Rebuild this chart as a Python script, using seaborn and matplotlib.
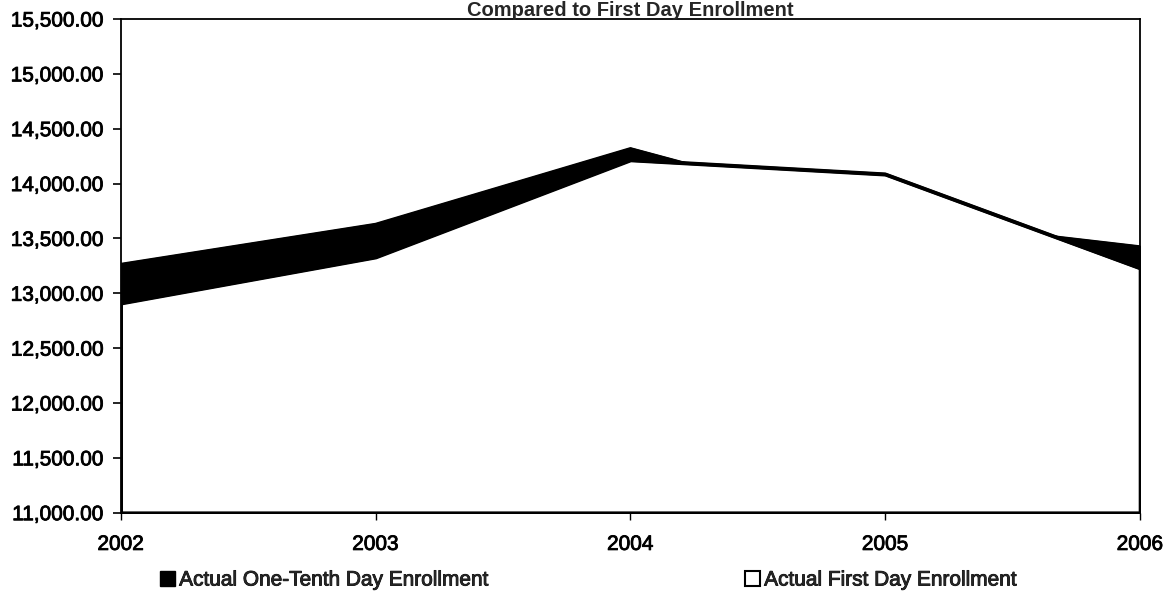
import matplotlib
matplotlib.use("Agg")
import matplotlib.pyplot as plt
import matplotlib.patheffects as pe
import pandas as pd
import seaborn as sns
from matplotlib.patches import Patch
from matplotlib.ticker import FuncFormatter

# Enrollment by academic year
years = [2002, 2003, 2004, 2005, 2006]
one_tenth_day = [13270, 13635, 14325, 13700, 13430]
first_day = [12910, 13330, 14215, 14085, 13230]

series_names = ["Actual One-Tenth Day Enrollment", "Actual First Day Enrollment"]
title_text = "Compared to First Day Enrollment"
y_ticks = [11000, 11500, 12000, 12500, 13000, 13500, 14000, 14500, 15000, 15500]
x_labels = ["2002", "2003", "2004", "2005", "2006"]

sns.set_style("white")
plt.rcParams["font.family"] = ["Liberation Sans", "DejaVu Sans"]

df = pd.DataFrame({"year": years, "one_tenth": one_tenth_day, "first": first_day})

W, H = 1165, 593
fig = plt.figure(figsize=(W / 100, H / 100), dpi=100)
left, right, top, bottom = 120.7, 1140, 19, 512.7
ax = fig.add_axes([left / W, 1 - bottom / H, (right - left) / W, (bottom - top) / H])

base = y_ticks[0]
# one-tenth day series: solid black area behind
ax.fill_between(df["year"], base, df["one_tenth"], facecolor="black",
                edgecolor="black", linewidth=1.2, zorder=1)
sns.lineplot(data=df, x="year", y="one_tenth", color="black", linewidth=1.2,
             ax=ax, zorder=1)
# first day series: white area with black outline in front
ax.fill_between(df["year"], base, df["first"], facecolor="white",
                edgecolor="black", linewidth=2.6, zorder=2)
sns.lineplot(data=df, x="year", y="first", color="black", linewidth=2.6,
             ax=ax, zorder=3)

ax.set_xlim(years[0], years[-1])
ax.set_ylim(y_ticks[0], y_ticks[-1])
ax.set_xticks(years)
ax.set_xticklabels(x_labels)
ax.set_yticks(y_ticks)
ax.yaxis.set_major_formatter(FuncFormatter(lambda v, p: f"{v:,.2f}"))
ax.set_xlabel("")
ax.set_ylabel("")

for s in ax.spines.values():
    s.set_visible(True)
    s.set_color("black")
    s.set_linewidth(1.3)
    s.set_zorder(4)

ax.tick_params(axis="y", which="major", left=True, length=6, width=1.2,
               direction="out", pad=6, labelsize=15, colors="black")
ax.tick_params(axis="x", which="major", bottom=True, length=5, width=1.0,
               direction="out", pad=11, labelsize=15, colors="black")

# slightly heavier glyphs for the labels
heavy = [pe.withStroke(linewidth=0.6, foreground="black")]
for lab in ax.get_xticklabels() + ax.get_yticklabels():
    lab.set_path_effects(heavy)

fig.text(0.5 * (left + right) / W, 1 - 16 / H, title_text, ha="center",
         va="baseline", fontsize=14.5, fontweight="bold")

legend_y = 1 - 580 / H
leg1 = fig.legend(handles=[Patch(facecolor="black", edgecolor="black")],
                  labels=[series_names[0]], loc="center left",
                  bbox_to_anchor=(160 / W, legend_y), frameon=False, fontsize=15,
                  handlelength=0.72, handleheight=0.72, handletextpad=0.2,
                  borderpad=0, borderaxespad=0)
leg2 = fig.legend(handles=[Patch(facecolor="white", edgecolor="black", linewidth=1.5)],
                  labels=[series_names[1]], loc="center left",
                  bbox_to_anchor=(745 / W, legend_y), frameon=False, fontsize=15,
                  handlelength=0.72, handleheight=0.72, handletextpad=0.2,
                  borderpad=0, borderaxespad=0)
for leg in (leg1, leg2):
    for t in leg.get_texts():
        t.set_path_effects(heavy)

fig.savefig("out.png", dpi=100, facecolor="white")
